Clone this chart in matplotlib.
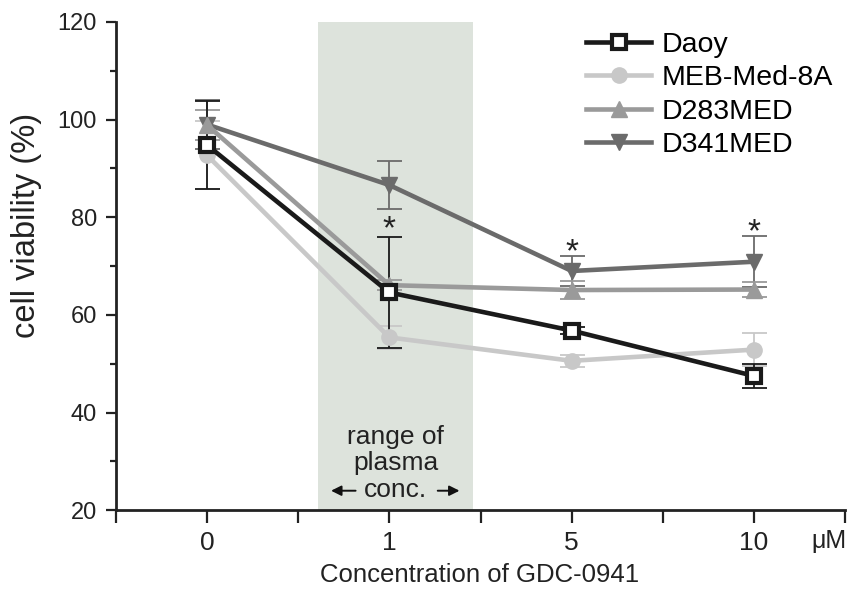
import matplotlib.pyplot as plt
from matplotlib.ticker import MultipleLocator, FixedLocator

plt.rcParams['font.family'] = ['Liberation Sans', 'DejaVu Sans']

conc_labels = ["0", "1", "5", "10"]
xpos = [0, 1, 2, 3]

daoy = [94.8, 64.6, 56.8, 47.5]
daoy_err = [9.0, 11.4, 0.8, 2.5]
meb = [92.7, 55.4, 50.6, 52.9]
meb_err = [7.0, 2.3, 1.2, 3.3]
d283 = [98.9, 66.1, 65.1, 65.2]
d283_err = [3.0, 1.0, 1.8, 1.5]
d341 = [99.0, 86.6, 69.0, 70.9]
d341_err = [5.0, 5.0, 3.0, 5.2]

# significance marks (centre of the asterisk)
stars_x = [1, 2, 3]
stars_y = [79.6, 74.9, 78.9]

fig = plt.figure(figsize=(8.52, 5.94), dpi=100)
ax = fig.add_axes([0.136, 0.141, 0.856, 0.822])

# plasma concentration range
ax.axvspan(0.61, 1.46, color='#dde3dc', lw=0, zorder=0)
ax.text(1.035, 29.6, "range of\nplasma\nconc.", ha='center', va='center',
        fontsize=19, linespacing=1.12, color='#222222')
arrow_kw = dict(arrowstyle='-|>,head_width=0.3,head_length=0.6', color='#111111', lw=1.4)
ax.annotate("", xy=(0.665, 24.0), xytext=(0.83, 24.0), arrowprops=arrow_kw)
ax.annotate("", xy=(1.40, 24.0), xytext=(1.25, 24.0), arrowprops=arrow_kw)

series = [
    ("D341MED", d341, d341_err, '#6b6b6b', 'v', '#6b6b6b', 12),
    ("D283MED", d283, d283_err, '#9a9a9a', '^', '#9a9a9a', 12),
    ("MEB-Med-8A", meb, meb_err, '#c8c8c8', 'o', '#c8c8c8', 11),
    ("Daoy", daoy, daoy_err, '#1a1a1a', 's', 'white', 10),
]

handles = {}
for name, vals, err, col, mk, fc, ms in series:
    ax.errorbar(xpos, vals, yerr=err, fmt='none', ecolor=col, elinewidth=1.3,
                capsize=9, capthick=1.3, zorder=2)
    h, = ax.plot(xpos, vals, color=col, lw=3.3, marker=mk, markersize=ms,
                 markerfacecolor=fc, markeredgecolor=col,
                 markeredgewidth=3 if mk == 's' else 1, zorder=3, label=name)
    handles[name] = h

# asterisk glyph sits above the baseline, so shift the baseline down
for sx, sy in zip(stars_x, stars_y):
    ax.text(sx, sy - 3.9, "*", ha='center', va='baseline', fontsize=24, color='#222222')

order = ["Daoy", "MEB-Med-8A", "D283MED", "D341MED"]
ax.legend([handles[n] for n in order], order, loc='upper left',
          bbox_to_anchor=(586 / 852, 1 - 32 / 594), bbox_transform=fig.transFigure,
          frameon=False, fontsize=20.5, borderpad=0, borderaxespad=0,
          handlelength=2.3, labelspacing=0.26, handletextpad=0.35)

ax.set_xlim(-0.5, 3.5)
ax.set_ylim(20, 120)
ax.set_xticks(xpos)
ax.set_xticklabels(conc_labels)
ax.xaxis.set_minor_locator(FixedLocator([-0.5, 0.5, 1.5, 2.5, 3.5]))
ax.yaxis.set_major_locator(MultipleLocator(20))
ax.yaxis.set_minor_locator(MultipleLocator(10))
ax.tick_params(axis='x', which='major', labelsize=19, length=9, width=1.6,
               colors='#222222', pad=6)
ax.tick_params(axis='y', which='major', labelsize=17, length=7.5, width=1.6,
               colors='#222222', pad=6)
ax.tick_params(axis='x', which='minor', length=9, width=1.6, color='#222222')
ax.tick_params(axis='y', which='minor', length=4, width=1.6, color='#222222')
fig.text(0.993, 1 - 541 / 594, "\u03bcM", ha='right', va='center', fontsize=18,
         color='#222222')

for s in ['top', 'right']:
    ax.spines[s].set_visible(False)
for s in ['left', 'bottom']:
    ax.spines[s].set_linewidth(2)
    ax.spines[s].set_color('#222222')

ax.set_ylabel("cell viability (%)", fontsize=23.5, color='#222222')
ax.yaxis.set_label_coords(-0.101, 0.584)
ax.set_xlabel("Concentration of GDC-0941", fontsize=18.5, color='#222222')
ax.xaxis.set_label_coords(0.499, -0.108)

fig.savefig("out.png", dpi=100)
